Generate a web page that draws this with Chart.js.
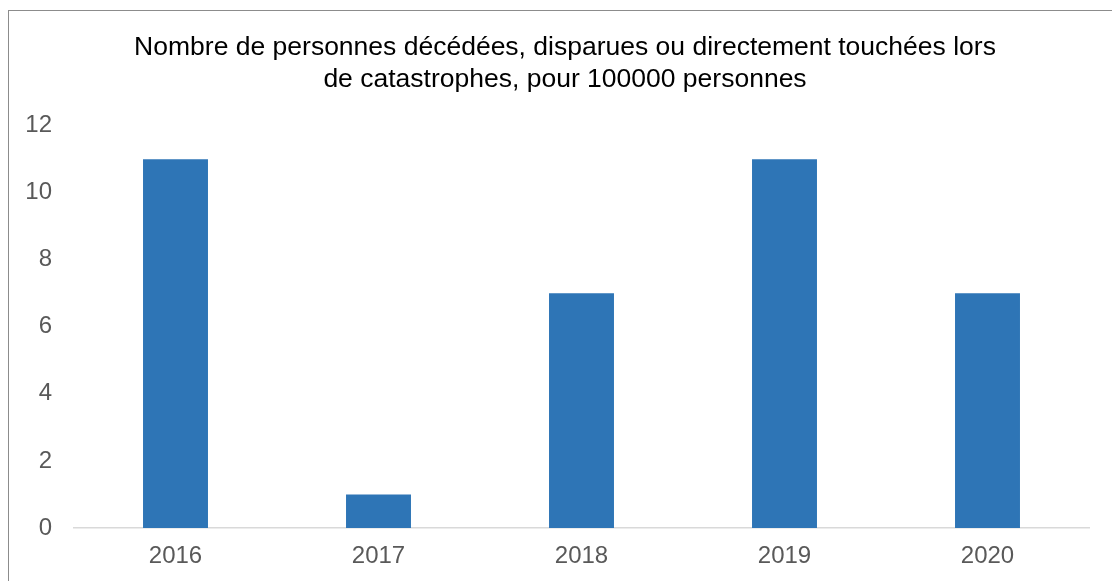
<!DOCTYPE html>
<html lang="fr">
<head>
<meta charset="utf-8">
<title>Catastrophes</title>
<script src="https://cdn.jsdelivr.net/npm/chart.js@4"></script>
<style>
  html, body { margin: 0; padding: 0; background: #fff; overflow: hidden; }
  #frame {
    position: absolute; left: 8px; top: 10px; width: 1200px; height: 700px;
    border-left: 1px solid #8c8c8c; border-top: 1px solid #8c8c8c;
  }
  #chart { position: absolute; left: 0; top: 0; }
</style>
</head>
<body>
<div id="frame"></div>
<canvas id="chart" width="1112" height="581"></canvas>
<script>
// ===== DATA =====
const years = ['2016', '2017', '2018', '2019', '2020'];
const personsAffected = [11, 1, 7, 11, 7];
const yTicks = [0, 2, 4, 6, 8, 10, 12];
const chartTitle = ['Nombre de personnes décédées, disparues ou directement touchées lors',
                    'de catastrophes, pour 100000 personnes'];

const fontFamily = '"Liberation Sans", Arial, sans-serif';
const labelFont = { family: fontFamily, size: 24 };

new Chart(document.getElementById('chart'), {
    type: 'bar',
    data: {
        labels: years,
        datasets: [{
            data: personsAffected,
            backgroundColor: '#2E75B6',
            borderWidth: 0,
            categoryPercentage: 1,
            barPercentage: 0.32
        }]
    },
    options: {
        responsive: false,
        animation: false,
        layout: { padding: { left: 18, right: 0, top: 10, bottom: 0 } },
        plugins: {
            legend: { display: false },
            tooltip: { enabled: false },
            title: {
                display: true,
                text: chartTitle,
                color: '#000',
                font: { family: fontFamily, size: 26.5, weight: 'normal', lineHeight: 1.2 },
                padding: { top: 22, bottom: 30 }
            }
        },
        scales: {
            y: {
                min: 0,
                max: 12,
                afterBuildTicks: scale => { scale.ticks = yTicks.map(v => ({ value: v })); },
                afterFit: scale => { scale.width = 56; },
                grid: { display: false, drawTicks: false },
                border: { display: false },
                ticks: { color: '#595959', font: labelFont, padding: 22 }
            },
            // empty right-hand spacer so the plot stops where the original does
            yRight: {
                position: 'right',
                min: 0,
                max: 12,
                afterFit: scale => { scale.width = 23; },
                grid: { display: false, drawTicks: false },
                border: { display: false },
                ticks: { display: false }
            },
            x: {
                afterFit: scale => { scale.height = 53; },
                grid: { display: false, drawTicks: false },
                border: { display: true, color: '#d9d9d9', width: 1.5 },
                ticks: { color: '#595959', font: labelFont, padding: 14 }
            }
        }
    }
});
</script>
</body>
</html>
